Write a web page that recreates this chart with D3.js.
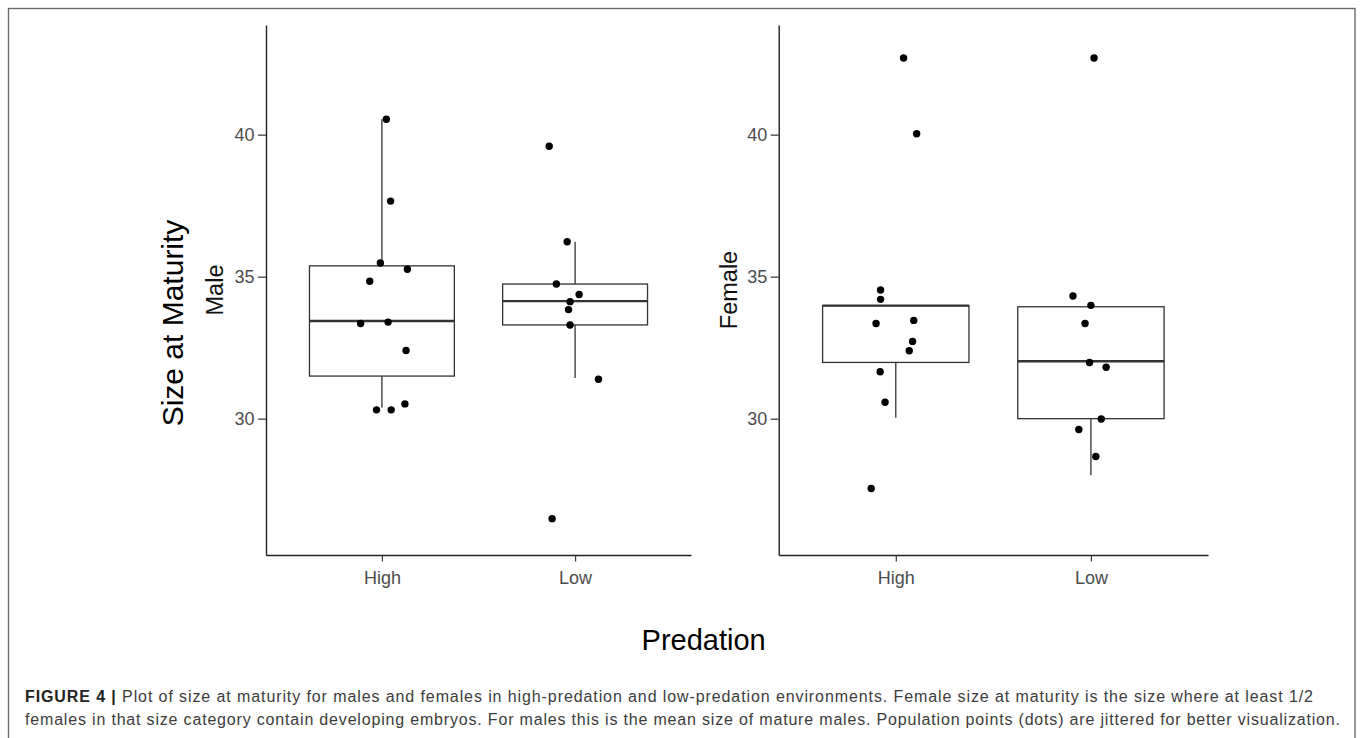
<!DOCTYPE html>
<html><head><meta charset="utf-8">
<script src="https://cdn.jsdelivr.net/npm/d3@7/dist/d3.min.js"></script>
<style>
body{margin:0;background:#fff;}
svg{display:block;}
</style>
</head><body>
<svg id="chart" width="1360" height="738"></svg>
<script>
// ---------------- data ----------------
const categories = ["High", "Low"];
const yTicks = [30, 35, 40];

// Male panel: jittered points (values) and horizontal jitter (in category-step units)
const maleHighValues = [40.54, 37.66, 35.48, 35.26, 34.84, 33.35, 33.40, 32.40, 30.31, 30.31, 30.52];
const maleHighJitter = [0.023, 0.045, -0.008, 0.132, -0.063, -0.110, 0.032, 0.125, -0.028, 0.048, 0.119];
const maleLowValues  = [39.59, 36.23, 34.74, 34.37, 34.12, 33.84, 33.30, 31.39, 26.48];
const maleLowJitter  = [-0.134, -0.041, -0.097, 0.021, -0.026, -0.034, -0.026, 0.121, -0.119];

// Female panel
const femaleHighValues = [42.70, 40.03, 34.53, 34.20, 33.35, 33.46, 32.72, 32.39, 31.65, 30.58, 27.54];
const femaleHighJitter = [0.040, 0.107, -0.078, -0.078, -0.101, 0.092, 0.086, 0.069, -0.080, -0.055, -0.126];
const femaleLowValues  = [42.70, 34.32, 33.99, 33.35, 31.98, 31.81, 29.99, 29.62, 28.67];
const femaleLowJitter  = [0.016, -0.092, 0.000, -0.030, -0.007, 0.078, 0.053, -0.062, 0.025];

// Box statistics: [lower whisker, Q1, median, Q3, upper whisker]
const maleHighBox   = [30.38, 31.50, 33.44, 35.38, 40.54];
const maleLowBox    = [31.43, 33.30, 34.14, 34.74, 36.23];
const femaleHighBox = [30.03, 31.98, 33.98, 33.98, 33.98];
const femaleLowBox  = [28.01, 30.00, 32.02, 33.94, 33.94];

const yDomain = [25.2, 43.86];

const captionBold = "FIGURE 4 |";
const captionLine1 = " Plot of size at maturity for males and females in high-predation and low-predation environments. Female size at maturity is the size where at least 1/2";
const captionLine2 = "females in that size category contain developing embryos. For males this is the mean size of mature males. Population points (dots) are jittered for better visualization.";

// ---------------- layout ----------------
const FONT = "'Liberation Sans', Arial, Helvetica, sans-serif";
const svg = d3.select("#chart");
const plotTop = 25, plotBottom = 555;

const panels = [
  { label: "Male", left: 266, right: 691, labelX: 223,
    groups: [
      { cat: "High", values: maleHighValues, jitter: maleHighJitter, box: maleHighBox },
      { cat: "Low",  values: maleLowValues,  jitter: maleLowJitter,  box: maleLowBox }
    ] },
  { label: "Female", left: 778.7, right: 1208, labelX: 737,
    groups: [
      { cat: "High", values: femaleHighValues, jitter: femaleHighJitter, box: femaleHighBox },
      { cat: "Low",  values: femaleLowValues,  jitter: femaleLowJitter,  box: femaleLowBox }
    ] }
];

// outer frame
svg.append("rect")
  .attr("x", 8.5).attr("y", 8.5)
  .attr("width", 1355 - 8.5).attr("height", 760)
  .attr("fill", "none").attr("stroke", "#6a6a6a").attr("stroke-width", 1.4);

const y = d3.scaleLinear().domain(yDomain).range([plotBottom, plotTop]);

panels.forEach(p => {
  const x = d3.scalePoint().domain(categories).range([p.left, p.right]).padding(0.6);
  const step = x.step();
  const bw = 0.75 * step;
  const g = svg.append("g");

  // boxplots
  p.groups.forEach(grp => {
    const [lo, q1, med, q3, hi] = grp.box;
    const cx = x(grp.cat);
    const bg = g.append("g").attr("stroke", "#333").attr("fill", "none");
    if (hi > q3) bg.append("line").attr("x1", cx).attr("x2", cx).attr("y1", y(q3)).attr("y2", y(hi)).attr("stroke-width", 1.3);
    if (lo < q1) bg.append("line").attr("x1", cx).attr("x2", cx).attr("y1", y(q1)).attr("y2", y(lo)).attr("stroke-width", 1.3);
    bg.append("rect").attr("x", cx - bw / 2).attr("y", y(q3))
      .attr("width", bw).attr("height", y(q1) - y(q3))
      .attr("fill", "#fff").attr("stroke-width", 1.3);
    bg.append("line").attr("x1", cx - bw / 2).attr("x2", cx + bw / 2)
      .attr("y1", y(med)).attr("y2", y(med)).attr("stroke-width", 2.4);
  });

  // jittered points
  p.groups.forEach(grp => {
    g.append("g").selectAll("circle")
      .data(grp.values.map((v, i) => ({ v, j: grp.jitter[i] })))
      .join("circle")
      .attr("cx", d => x(grp.cat) + d.j * step)
      .attr("cy", d => y(d.v))
      .attr("r", 3.7)
      .attr("fill", "#000");
  });

  // axes
  const ya = g.append("g").attr("transform", `translate(${p.left},0)`)
    .call(d3.axisLeft(y).tickValues(yTicks).tickSize(8).tickSizeOuter(0).tickPadding(3.5));
  const xa = g.append("g").attr("transform", `translate(0,${plotBottom})`)
    .call(d3.axisBottom(x).tickSize(6.5).tickSizeOuter(0).tickPadding(10));
  [ya, xa].forEach(a => {
    a.select(".domain").attr("stroke", "#222").attr("stroke-width", 1.4);
    a.selectAll(".tick line").attr("stroke", "#333").attr("stroke-width", 1.2);
    a.selectAll(".tick text").attr("fill", "#4d4d4d")
      .style("font-family", FONT).style("font-size", "18px");
  });

  // panel y label
  g.append("text")
    .attr("transform", `translate(${p.labelX},${(plotTop + plotBottom) / 2}) rotate(-90)`)
    .attr("text-anchor", "middle")
    .style("font-family", FONT).style("font-size", "23.5px").attr("fill", "#111")
    .text(p.label);
});

// overall y title
svg.append("text")
  .attr("transform", "translate(183,323) rotate(-90)")
  .attr("text-anchor", "middle")
  .style("font-family", FONT).style("font-size", "30px").attr("fill", "#000")
  .text("Size at Maturity");

// overall x title
svg.append("text")
  .attr("x", 703.7).attr("y", 650)
  .attr("text-anchor", "middle")
  .style("font-family", FONT).style("font-size", "29px").attr("fill", "#000")
  .text("Predation");

// caption
function captionLine(parts, x0, yBase, targetRight) {
  const t = svg.append("text").attr("x", x0).attr("y", yBase)
    .style("font-family", FONT).style("font-size", "16px");
  parts.forEach(pt => {
    t.append("tspan").attr("font-weight", pt.bold ? "bold" : "normal")
      .attr("fill", pt.bold ? "#222" : "#3c3c3c").text(pt.text);
  });
  const natural = t.node().getComputedTextLength();
  const n = parts.reduce((s, pt) => s + pt.text.length, 0);
  const ls = (targetRight - x0 - natural) / (n - 1);
  t.style("letter-spacing", ls + "px");
}
captionLine([{ text: captionBold, bold: true }, { text: captionLine1 }], 25, 702, 1313);
captionLine([{ text: captionLine2 }], 25, 725, 1340);
</script>
</body></html>
